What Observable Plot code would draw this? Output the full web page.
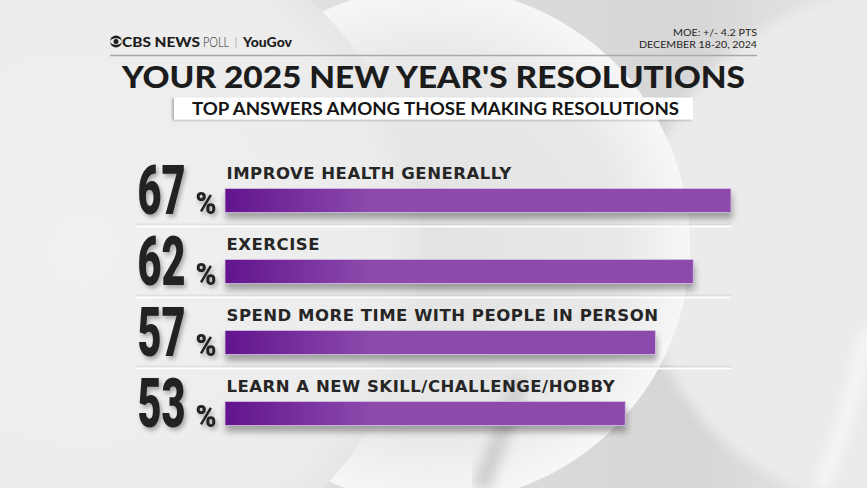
<!DOCTYPE html>
<html>
<head>
<meta charset="utf-8">
<script src="https://cdn.jsdelivr.net/npm/d3@7"></script>
<script src="https://cdn.jsdelivr.net/npm/@observablehq/plot@0.6"></script>
<style>
  html, body { margin: 0; padding: 0; background: #ececec; }
  #wrap { position: relative; width: 867px; height: 488px; overflow: hidden; }
  #wrap > svg, #chart { position: absolute; left: 0; top: 0; }
  #chart svg { overflow: visible; }
</style>
</head>
<body>
<div id="wrap">
  <svg id="bg" width="867" height="488" viewBox="0 0 867 488">
    <defs>
      <linearGradient id="baseGrad" x1="0" x2="1" y1="0" y2="0">
        <stop offset="0" stop-color="#e9e9e9"/>
        <stop offset="0.45" stop-color="#dedede"/>
        <stop offset="0.8" stop-color="#d6d6d6"/>
        <stop offset="1" stop-color="#e8e8e8"/>
      </linearGradient>
      <radialGradient id="eyeGrad" cx="0.5" cy="0.5" r="0.5">
        <stop offset="0" stop-color="#e3e3e3"/>
        <stop offset="0.72" stop-color="#e8e8e8"/>
        <stop offset="0.93" stop-color="#f3f3f3"/>
        <stop offset="1" stop-color="#f7f7f7"/>
      </radialGradient>
      <radialGradient id="leftGrad" cx="0.5" cy="0.5" r="0.5">
        <stop offset="0" stop-color="#f0f0f0"/>
        <stop offset="0.9" stop-color="#ececec"/>
        <stop offset="1" stop-color="#e6e6e6"/>
      </radialGradient>
      <linearGradient id="barGrad" gradientUnits="userSpaceOnUse" x1="225" x2="370" y1="0" y2="0">
        <stop offset="0" stop-color="#62148d"/>
        <stop offset="1" stop-color="#8b4aac"/>
      </linearGradient>
      <filter id="soft" x="-20%" y="-20%" width="140%" height="140%">
        <feGaussianBlur stdDeviation="6"/>
      </filter>
    </defs>
    <rect width="867" height="488" fill="url(#baseGrad)"/>
    <circle cx="900" cy="250" r="260" fill="#ebebeb" filter="url(#soft)"/>
    <circle cx="432" cy="245" r="258" fill="url(#eyeGrad)"/>
    <circle cx="84" cy="250" r="337" fill="url(#leftGrad)"/>
    <path d="M 867 330 Q 850 420 820 488" stroke="#f6f6f6" stroke-width="14" fill="none" filter="url(#soft)"/>
    <path d="M 520 380 Q 500 440 480 488" stroke="#cfcfcf" stroke-width="18" fill="none" filter="url(#soft)"/>
  </svg>

  <svg id="header" width="867" height="130" viewBox="0 0 867 130">
    <defs>
      <filter id="boxShadow" x="-5%" y="-30%" width="110%" height="160%">
        <feDropShadow dx="-2" dy="1" stdDeviation="1.2" flood-color="#000" flood-opacity="0.25"/>
      </filter>
    </defs>
    <!-- logo -->
    <g transform="translate(110,35.5)">
      <circle cx="6" cy="6" r="5.9" fill="#1e1e1e"/>
      <ellipse cx="6" cy="6" rx="5.9" ry="3.3" fill="#ececec"/>
      <circle cx="6" cy="6" r="2.5" fill="#1e1e1e"/>
    </g>
    <text x="122" y="47" font-family="Lato" font-weight="900" font-size="14" fill="#1e1e1e" textLength="78" lengthAdjust="spacingAndGlyphs">CBS NEWS</text>
    <text x="203" y="47" font-family="Lato" font-weight="300" font-size="14" fill="#1e1e1e" textLength="26" lengthAdjust="spacingAndGlyphs">POLL</text>
    <line x1="236" x2="236" y1="37" y2="48" stroke="#b5b5b5" stroke-width="1"/>
    <text x="243" y="47" font-family="Lato" font-weight="900" font-size="14" fill="#1e1e1e" textLength="49" lengthAdjust="spacingAndGlyphs">YouGov</text>
    <!-- MOE -->
    <text x="757" y="36" text-anchor="end" font-family="Lato" font-weight="400" font-size="10" fill="#1e1e1e" textLength="84" lengthAdjust="spacingAndGlyphs">MOE: +/- 4.2 PTS</text>
    <text x="757" y="48.3" text-anchor="end" font-family="Lato" font-weight="400" font-size="10" fill="#1e1e1e" textLength="118" lengthAdjust="spacingAndGlyphs">DECEMBER 18-20, 2024</text>
    <line x1="110" x2="757" y1="55.5" y2="55.5" stroke="#a9a9a9" stroke-width="1.6"/>
    <!-- title -->
    <text x="122" y="88" font-family="Lato" font-weight="900" font-size="30.5" fill="#1c1c1c" textLength="623" lengthAdjust="spacingAndGlyphs">YOUR 2025 NEW YEAR'S RESOLUTIONS</text>
    <rect x="174" y="97.5" width="519" height="22" fill="#ffffff" filter="url(#boxShadow)"/>
    <text x="192" y="115" font-family="Lato" font-weight="700" font-size="16.5" fill="#151515" textLength="487" lengthAdjust="spacingAndGlyphs">TOP ANSWERS AMONG THOSE MAKING RESOLUTIONS</text>
  </svg>

  <div id="chart"></div>
</div>

<script>
// ---- data ----
const labels = [
  "IMPROVE HEALTH GENERALLY",
  "EXERCISE",
  "SPEND MORE TIME WITH PEOPLE IN PERSON",
  "LEARN A NEW SKILL/CHALLENGE/HOBBY"
];
const values = [67, 62, 57, 53];

const data = labels.map((label, i) => ({label, value: values[i]}));

const NUM_FONT = "Roboto";
const LABEL_FONT = "DejaVu Sans";
const LABEL_SIZE = 16.5;

const plot = Plot.plot({
  width: 867,
  height: 488,
  marginLeft: 225,
  marginRight: 136,
  marginTop: 163.6,
  marginBottom: 37.2,
  style: {background: "transparent", overflow: "visible"},
  x: {domain: [0, d3.max(values)], axis: null},
  y: {domain: labels, padding: 0, axis: null},
  marks: [
    // row separators (shadow + white line)
    Plot.ruleY(data.slice(0, -1), {y: "label", dy: 24.5, insetLeft: -89, stroke: "#000", strokeOpacity: 0.06, strokeWidth: 4}),
    Plot.ruleY(data.slice(0, -1), {y: "label", dy: 25.5, insetLeft: -89, stroke: "#ffffff", strokeWidth: 2}),
    // bars
    Plot.barX(data, {x: "value", y: "label", insetTop: 23.4, insetBottom: 23.4,
      fill: "url(#barGrad)", stroke: "#d9c4e3", strokeWidth: 0.8}),
    // category labels
    Plot.text(data, {y: "label", text: "label", frameAnchor: "left", textAnchor: "start",
      lineAnchor: "bottom", dx: 1, dy: -22.5, fontFamily: LABEL_FONT, fontWeight: 700,
      fontSize: LABEL_SIZE, fill: "#262626"}),
    // big numbers
    Plot.text(data, {y: "label", text: d => String(d.value), frameAnchor: "left", textAnchor: "end",
      lineAnchor: "bottom", dx: -40, dy: 12.5, fontFamily: NUM_FONT, fontWeight: 900,
      fontSize: 69, fill: "#222222"}),
    // percent signs
    Plot.text(data, {y: "label", text: d => "%", frameAnchor: "left", textAnchor: "end",
      lineAnchor: "bottom", dx: -9, dy: 12.5, fontFamily: NUM_FONT, fontWeight: 900,
      fontSize: 31, fill: "#222222"})
  ]
});

document.getElementById("chart").appendChild(plot);

// bar shadow
plot.querySelectorAll('g[fill="url(#barGrad)"]').forEach(g => {
  g.style.filter = "drop-shadow(1px 6px 3px rgba(0,0,0,0.32))";
});

// condense big numbers and percent signs
plot.querySelectorAll('g[font-family="' + NUM_FONT + '"]').forEach(g => {
  g.style.filter = "drop-shadow(2px 3px 2px rgba(0,0,0,0.3))";
  g.querySelectorAll("text").forEach(t => {
    const isPct = t.textContent === "%";
    t.setAttribute("textLength", isPct ? 21 : 48);
    t.setAttribute("lengthAdjust", "spacingAndGlyphs");
  });
});

// fit category label tracking to the reference widths of labels 1 and 3 (balanced)
const labelTexts = Array.from(plot.querySelectorAll('g[font-family="' + LABEL_FONT + '"] text'));
if (labelTexts.length >= 3) {
  const a = labelTexts[0], b = labelTexts[2];
  const wa = a.getComputedTextLength(), wb = b.getComputedTextLength();
  const na = a.textContent.length - 1, nb = b.textContent.length - 1;
  const l = ((289 - wa) + (427 - wb)) / (na + nb);
  labelTexts.forEach(t => t.setAttribute("letter-spacing", l.toFixed(2)));
}
</script>
</body>
</html>
